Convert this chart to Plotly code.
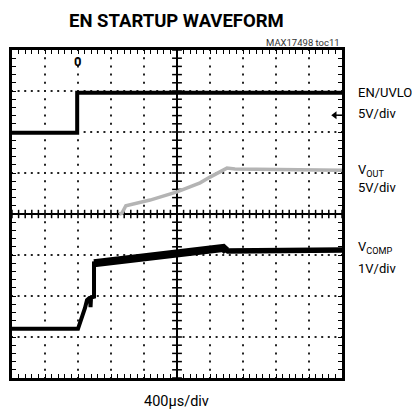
import plotly.graph_objects as go

# ---------------- data (read from the scope capture) ----------------
US_PER_DIV = 400.0          # 400µs/div horizontal
N_XDIV, N_YDIV = 10, 8

# EN/UVLO : 5V/div, ground reference at division 6
en_scale, en_offset = 5.0, 6.0
en_t_us = [0, 790, 790, 4000]
en_v = [-0.1, -0.1, 4.8, 4.8]

# VOUT : 5V/div, ground reference at division 4 (centre)
vout_scale, vout_offset = 5.0, 4.0
vout_t_us = [1300, 1333, 1380, 1673, 2000, 2280, 2400, 2606, 2703, 4000]
vout_v = [0.0, 0.1, 1.0, 1.7, 2.7, 3.8, 4.5, 5.6, 5.5, 5.35]

# VCOMP : 1V/div, ground reference at division 0
vcomp_scale, vcomp_offset = 1.0, 0.0
vcomp_t_us = [0, 800, 885, 909, 945, 952, 958, 982, 994, 994, 2279, 2560, 2600, 4000]
vcomp_v = [1.2, 1.2, 1.71, 1.90, 1.96, 1.73, 1.96, 1.98, 1.98, 2.80, 3.09, 3.17, 3.10, 3.12]
vcomp_band_start_us, vcomp_band_end_us = 994, 2600

# text
title_text = "EN STARTUP WAVEFORM"
note_text = "MAX17498 toc11"
timebase_text = "400µs/div"
ch_labels = [("EN/UVLO", "5V/div"), ("V<sub>OUT</sub>", "5V/div"), ("V<sub>COMP</sub>", "1V/div")]


def to_div_x(ts):
    return [t / US_PER_DIV for t in ts]


def to_div_y(vs, scale, offset):
    return [offset + v / scale for v in vs]


FONT = "Roboto, Liberation Sans, Arial, sans-serif"
BODY = 8  # default page margin of the html body

fig = go.Figure()

# ---------------- graticule dots ----------------
gx, gy = [], []
for k in range(1, N_XDIV):
    if k == N_XDIV // 2:
        continue
    for j in range(0, N_YDIV * 5 + 1):
        gx.append(k)
        gy.append(j * 0.2)
for k in range(1, N_YDIV):
    if k == N_YDIV // 2:
        continue
    for j in range(0, N_XDIV * 5 + 1):
        gx.append(j * 0.2)
        gy.append(k)
fig.add_trace(go.Scatter(x=gx, y=gy, mode="markers", hoverinfo="skip",
                         marker=dict(symbol="square", size=2, color="#222222", line=dict(width=0)),
                         showlegend=False))

# centre lines
fig.add_shape(type="line", x0=0, x1=N_XDIV, y0=N_YDIV / 2, y1=N_YDIV / 2,
              line=dict(color="black", width=2), layer="below")
fig.add_shape(type="line", x0=N_XDIV / 2, x1=N_XDIV / 2, y0=0, y1=N_YDIV,
              line=dict(color="black", width=2), layer="below")
# centre-line minor ticks
fig.add_trace(go.Scatter(x=[j * 0.2 for j in range(N_XDIV * 5 + 1)], y=[N_YDIV / 2] * (N_XDIV * 5 + 1),
                         mode="markers", hoverinfo="skip", showlegend=False,
                         marker=dict(symbol="line-ns", size=6, line=dict(width=1.5, color="black"))))
fig.add_trace(go.Scatter(y=[j * 0.2 for j in range(N_YDIV * 5 + 1)], x=[N_XDIV / 2] * (N_YDIV * 5 + 1),
                         mode="markers", hoverinfo="skip", showlegend=False,
                         marker=dict(symbol="line-ew", size=7, line=dict(width=1.5, color="black"))))

# ---------------- waveforms ----------------
fig.add_trace(go.Scatter(x=to_div_x(vout_t_us), y=to_div_y(vout_v, vout_scale, vout_offset),
                         mode="lines", line=dict(color="#b4b4b4", width=3.5), showlegend=False))

fig.add_trace(go.Scatter(x=to_div_x(en_t_us), y=to_div_y(en_v, en_scale, en_offset),
                         mode="lines", line=dict(color="black", width=4), showlegend=False))

vx = to_div_x(vcomp_t_us)
vy = to_div_y(vcomp_v, vcomp_scale, vcomp_offset)
fig.add_trace(go.Scatter(x=vx, y=vy, mode="lines", line=dict(color="black", width=4),
                         showlegend=False))
band_idx = [i for i, t in enumerate(vcomp_t_us)
            if vcomp_band_start_us <= t <= vcomp_band_end_us and vcomp_v[i] > 2.5]
fig.add_trace(go.Scatter(x=[vx[i] for i in band_idx], y=[vy[i] for i in band_idx], mode="lines",
                         line=dict(color="black", width=8), showlegend=False))
tail_idx = [i for i, t in enumerate(vcomp_t_us) if t >= vcomp_band_end_us]
fig.add_trace(go.Scatter(x=[vx[i] for i in tail_idx], y=[vy[i] for i in tail_idx], mode="lines",
                         line=dict(color="black", width=5.5), showlegend=False))

# EN channel marker on the right edge
fig.add_trace(go.Scatter(x=[9.78], y=[6.41], mode="markers", hoverinfo="skip", showlegend=False,
                         marker=dict(symbol="triangle-left", size=7, color="black")))
fig.add_trace(go.Scatter(x=[9.9], y=[6.41], mode="markers", hoverinfo="skip", showlegend=False,
                         marker=dict(symbol="line-ew", size=6, line=dict(width=1.5, color="black"))))

# ---------------- text ----------------
ann = []
ann.append(dict(text="<b>" + title_text + "</b>", xref="paper", yref="paper", x=0.497, y=1,
                yshift=29, xanchor="center", yanchor="middle", showarrow=False,
                font=dict(family=FONT, size=18.5, color="black")))
ann.append(dict(text=note_text, xref="paper", yref="paper", x=1, y=1, yshift=8,
                xanchor="right", yanchor="middle", showarrow=False,
                font=dict(family=FONT, size=9.5, color="#333333")))
ann.append(dict(text=timebase_text, xref="paper", yref="paper", x=0.497, y=0, yshift=-23,
                xanchor="center", yanchor="middle", showarrow=False,
                font=dict(family=FONT, size=14.5, color="black")))
# trigger marker
ann.append(dict(text="<b>0</b>", xref="x", yref="y", x=en_t_us[1] / US_PER_DIV, y=N_YDIV, yshift=-11,
                xanchor="center", yanchor="middle", showarrow=False,
                font=dict(family=FONT, size=13, color="black")))

label_y_px = [(92, 114), (170, 188), (247, 268)]   # pixel centres of the two lines
plot_top, plot_h = 50, 328
for (l1, l2), (y1, y2) in zip(ch_labels, label_y_px):
    for txt, ypx in ((l1, y1), (l2, y2)):
        ann.append(dict(text=txt, xref="paper", yref="paper", x=1.042,
                        y=1 - (ypx - plot_top) / plot_h, xanchor="left", yanchor="middle",
                        showarrow=False, font=dict(family=FONT, size=13, color="black")))

axis_common = dict(showgrid=False, zeroline=False, showline=True, linecolor="black", linewidth=3,
                   mirror="allticks", ticks="inside", ticklen=4, tickwidth=1.2, tickcolor="black",
                   tick0=0, dtick=0.2, showticklabels=False, fixedrange=True)

fig.update_layout(
    width=420 - BODY, height=411 - BODY,
    margin=dict(l=12 - BODY, r=78, t=50 - BODY, b=33, pad=0),
    paper_bgcolor="white", plot_bgcolor="white",
    xaxis=dict(range=[0, N_XDIV], **axis_common),
    yaxis=dict(range=[0, N_YDIV], **axis_common),
    annotations=ann,
    showlegend=False,
)

fig.write_html("out.html")
